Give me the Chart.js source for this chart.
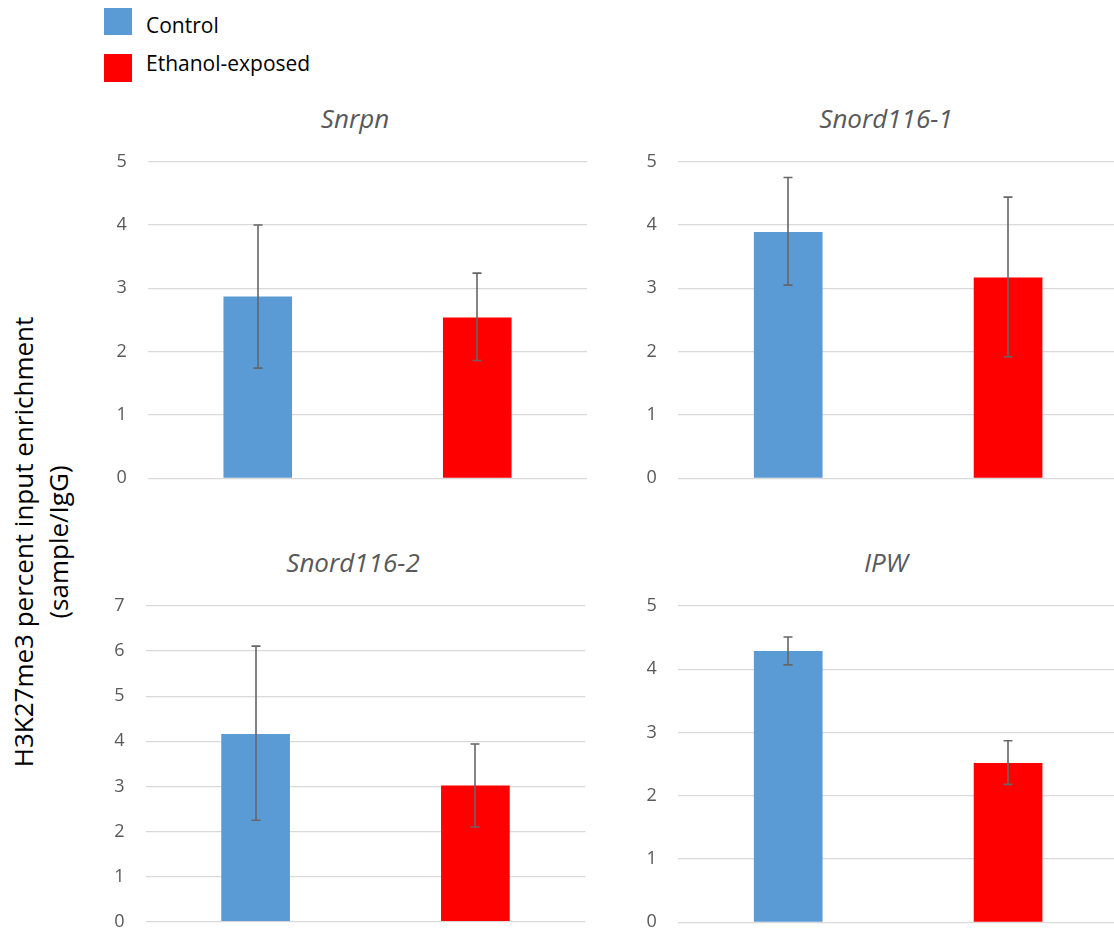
<!DOCTYPE html>
<html>
<head>
<meta charset="utf-8">
<script src="https://cdn.jsdelivr.net/npm/chart.js@4.4.1/dist/chart.umd.min.js"></script>
<style>
  html, body { margin: 0; padding: 0; background: #fff; }
  body { width: 1114px; height: 930px; position: relative; overflow: hidden; font-family: "Open Sans", sans-serif; }
  .panel { position: absolute; }
  .panel canvas { display: block; }
  .titre { position: absolute; font-style: italic; font-size: 26px; color: #595959; transform: translate(-50%, -50%); white-space: nowrap; }
  .carre { position: absolute; left: 104px; width: 28px; height: 27px; }
  .legende { position: absolute; left: 146px; font-size: 21px; line-height: 28px; color: #000; white-space: nowrap; }
  #ytitre { position: absolute; left: 41px; top: 542px; transform: translate(-50%, -50%) rotate(-90deg); text-align: center; font-size: 26px; line-height: 35px; color: #000; white-space: nowrap; }
</style>
</head>
<body>
<div class="carre" style="top:8px; background:#5b9bd5"></div>
<div class="legende" style="top:11px">Control</div>
<div class="carre" style="top:54px; height:28px; background:#ff0000"></div>
<div class="legende" style="top:49px">Ethanol-exposed</div>
<div id="ytitre">H3K27me3 percent input enrichment<br>(sample/IgG)</div>

<script>
// Données
const groupes = ["Control", "Ethanol-exposed"];
const couleurs = ["#5b9bd5", "#ff0000"];
const genes = ["Snrpn", "Snord116-1", "Snord116-2", "IPW"];
const moyennes = [
  [2.87, 2.54],
  [3.89, 3.17],
  [4.16, 3.02],
  [4.29, 2.52]
];
const erreursHaut = [
  [4.00, 3.24],
  [4.75, 4.44],
  [6.11, 3.94],
  [4.51, 2.87]
];
const erreursBas = [
  [1.74, 1.86],
  [3.05, 1.92],
  [2.25, 2.10],
  [4.07, 2.18]
];
const maxAxes = [5, 5, 7, 5];

// Placement des quatre graphiques (canvas) et des titres
const panneaux = [
  { left: 100, top: 147, width: 500, height: 346, pad: { top: 14.7, bottom: 14.7, right: 13, left: 16.5 }, axe: 31.5, tx: 355, ty: 118 },
  { left: 630, top: 147, width: 500, height: 346, pad: { top: 14.7, bottom: 14.7, right: 12, left: 16.5 }, axe: 31.8, tx: 886, ty: 118 },
  { left: 98, top: 591, width: 500, height: 346, pad: { top: 15, bottom: 15.3, right: 12.7, left: 16.2 }, axe: 31.5, tx: 353, ty: 562 },
  { left: 630, top: 591, width: 500, height: 346, pad: { top: 15, bottom: 14.7, right: 12, left: 16.5 }, axe: 31.8, tx: 886, ty: 562 }
];

// Plugin qui dessine les barres d'erreur avec les échelles du graphique
const barresErreur = {
  id: "barresErreur",
  afterDatasetsDraw(chart, args, opts) {
    const ctx = chart.ctx;
    const y = chart.scales.y;
    const meta = chart.getDatasetMeta(0);
    ctx.save();
    ctx.strokeStyle = "#666666";
    ctx.lineWidth = 1.6;
    meta.data.forEach(function (barre, i) {
      const x = Math.round(barre.x);
      const haut = y.getPixelForValue(opts.haut[i]);
      const bas = y.getPixelForValue(opts.bas[i]);
      ctx.beginPath();
      ctx.moveTo(x, haut);
      ctx.lineTo(x, bas);
      ctx.moveTo(x - 4.5, haut);
      ctx.lineTo(x + 4.5, haut);
      ctx.moveTo(x - 4.5, bas);
      ctx.lineTo(x + 4.5, bas);
      ctx.stroke();
    });
    ctx.restore();
  }
};

for (let i = 0; i < genes.length; i++) {
  const p = panneaux[i];
  const boite = document.createElement("div");
  boite.className = "panel";
  boite.style.left = p.left + "px";
  boite.style.top = p.top + "px";
  boite.style.width = p.width + "px";
  boite.style.height = p.height + "px";
  const canvas = document.createElement("canvas");
  boite.appendChild(canvas);
  document.body.appendChild(boite);

  const titre = document.createElement("div");
  titre.className = "titre";
  titre.textContent = genes[i];
  titre.style.left = p.tx + "px";
  titre.style.top = p.ty + "px";
  document.body.appendChild(titre);

  new Chart(canvas, {
    type: "bar",
    data: {
      labels: groupes,
      datasets: [{
        data: moyennes[i],
        backgroundColor: couleurs,
        barPercentage: 0.3125,
        categoryPercentage: 1
      }]
    },
    options: {
      responsive: true,
      maintainAspectRatio: false,
      animation: false,
      events: [],
      layout: { padding: p.pad },
      plugins: {
        legend: { display: false },
        tooltip: { enabled: false },
        barresErreur: { haut: erreursHaut[i], bas: erreursBas[i] }
      },
      scales: {
        x: { display: false },
        y: {
          min: 0,
          max: maxAxes[i],
          ticks: { stepSize: 1, padding: 0, crossAlign: "far", color: "#595959", font: { family: "Open Sans", size: 18 } },
          grid: { color: "#d9d9d9", lineWidth: 1.3, drawTicks: false },
          border: { display: false },
          afterFit: function (s) { s.width = p.axe; }
        }
      }
    },
    plugins: [barresErreur]
  });
}
</script>
</body>
</html>
